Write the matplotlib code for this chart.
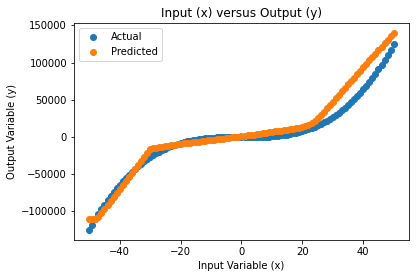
import matplotlib
matplotlib.use("Agg")
import matplotlib.pyplot as plt

x_values = [-50, -49, -48, -47, -46, -45, -44, -43, -42, -41,
            -40, -39, -38, -37, -36, -35, -34, -33, -32, -31,
            -30, -29, -28, -27, -26, -25, -24, -23, -22, -21,
            -20, -19, -18, -17, -16, -15, -14, -13, -12, -11,
            -10, -9, -8, -7, -6, -5, -4, -3, -2, -1,
            0, 1, 2, 3, 4, 5, 6, 7, 8, 9,
            10, 11, 12, 13, 14, 15, 16, 17, 18, 19,
            20, 21, 22, 23, 24, 25, 26, 27, 28, 29,
            30, 31, 32, 33, 34, 35, 36, 37, 38, 39,
            40, 41, 42, 43, 44, 45, 46, 47, 48, 49, 50]

actual = [-125000, -117600, -110600, -103800, -97300, -91100, -85200, -79500, -74100, -68900,
          -64000, -59300, -54900, -50700, -46700, -42900, -39300, -35900, -32800, -29800,
          -27000, -24400, -22000, -19700, -17600, -15600, -13800, -12200, -10600, -9300,
          -8000, -6900, -5800, -4900, -4100, -3400, -2700, -2200, -1700, -1300,
          -1000, -700, -500, -300, -200, -100, -60, -30, -10, 0,
          0, 0, 10, 30, 60, 100, 200, 300, 500, 700,
          1000, 1300, 1700, 2200, 2700, 3400, 4100, 4900, 5800, 6900,
          8000, 9300, 10600, 12200, 13800, 15600, 17600, 19700, 22000, 24400,
          27000, 29800, 32800, 35900, 39300, 42900, 46700, 50700, 54900, 59300,
          64000, 68900, 74100, 79500, 85200, 91100, 97300, 103800, 110600, 117600, 125000]

predicted = [-110500, -110000, -109500, -108000, -102600, -97200, -91800, -86300, -80900, -75500,
             -70100, -64700, -59300, -53900, -48500, -43100, -37600, -32200, -26800, -21400,
             -16000, -15300, -14600, -13900, -13200, -12500, -11800, -11100, -10400, -9700,
             -9000, -8500, -8000, -7500, -7000, -6500, -6000, -5500, -5000, -4500,
             -4000, -3500, -3000, -2500, -2000, -1500, -1000, -500, 0, 500,
             1000, 1600, 2200, 2800, 3400, 4000, 4600, 5200, 5800, 6400,
             7000, 7600, 8200, 8800, 9400, 10000, 10600, 11200, 11800, 12400,
             13000, 14500, 16300, 18700, 21700, 25300, 29500, 34000, 38600, 43200,
             47800, 52400, 57000, 61600, 66200, 70800, 75400, 80000, 84600, 89200,
             93800, 98400, 103000, 107600, 112200, 116800, 121400, 126000, 130600, 135300, 140000]

fig = plt.figure(figsize=(416 / 72, 278 / 72), dpi=72)
ax = fig.add_axes([0.178, 0.137, 0.805, 0.780])
ax.scatter(x_values, actual, label="Actual", color="#1f77b4")
ax.scatter(x_values, predicted, label="Predicted", color="#ff7f0e")
ax.set_title("Input (x) versus Output (y)")
ax.set_xlabel("Input Variable (x)")
ax.set_ylabel("Output Variable (y)")
ax.legend(loc="upper left")
fig.savefig("out.png", dpi=72)
